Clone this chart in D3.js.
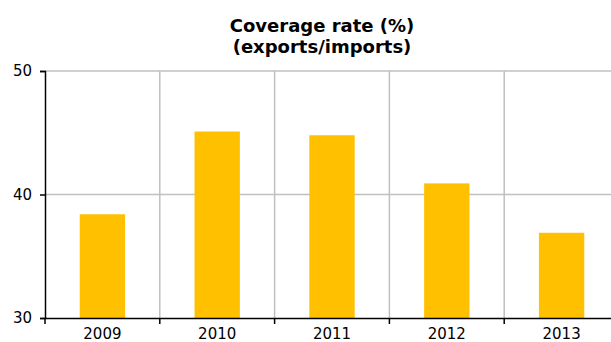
<!DOCTYPE html>
<html lang="en">
<head>
    <meta charset="UTF-8">
    <title>Coverage rate</title>
    <script src="https://cdn.jsdelivr.net/npm/d3@7/dist/d3.min.js"></script>
    <style>
        body { margin: 0; background: #fff; }
        svg { display: block; font-family: "DejaVu Sans", Verdana, sans-serif; }
        .bar { fill: #ffc000; }
        .grid line { stroke: #c0c0c0; stroke-width: 1.5; }
    </style>
</head>
<body>
    <script>
        var years = ["2009", "2010", "2011", "2012", "2013"];
        var coverage = [38.4, 45.1, 44.8, 40.9, 36.9];
        var yTicks = [30, 40, 50];
        var titleLines = ["Coverage rate (%)", "(exports/imports)"];

        var data = years.map((d, i) => ({ year: d, value: coverage[i] }));

        var width = 611, height = 342;
        var margin = { top: 71, right: -8, bottom: 24, left: 45 };

        var svg = d3.select("body").append("svg")
            .attr("width", width)
            .attr("height", height);

        var x = d3.scaleBand()
            .domain(years)
            .range([margin.left, width - margin.right])
            .padding(0);

        var y = d3.scaleLinear()
            .domain([30, 50])
            .range([height - margin.bottom, margin.top]);

        // gridlines
        var grid = svg.append("g").attr("class", "grid");
        grid.selectAll(".h")
            .data(yTicks.slice(1))
            .enter().append("line")
            .attr("x1", margin.left)
            .attr("x2", width)
            .attr("y1", d => y(d))
            .attr("y2", d => y(d));
        grid.selectAll(".v")
            .data(years.slice(1))
            .enter().append("line")
            .attr("x1", d => x(d))
            .attr("x2", d => x(d))
            .attr("y1", y(50))
            .attr("y2", y(30));

        // bars
        var bw = x.bandwidth() * 0.395;
        svg.selectAll(".bar")
            .data(data)
            .enter().append("rect")
            .attr("class", "bar")
            .attr("x", d => x(d.year) + (x.bandwidth() - bw) / 2)
            .attr("y", d => y(d.value))
            .attr("width", bw)
            .attr("height", d => y(30) - y(d.value));

        // y axis
        var yAxis = svg.append("g")
            .attr("transform", "translate(" + margin.left + ",0)")
            .call(d3.axisLeft(y).tickValues(yTicks).tickSize(5).tickPadding(8));
        yAxis.selectAll("path, line").attr("stroke", "#000").attr("stroke-width", 1.5);
        yAxis.selectAll("text").attr("font-size", 15).attr("fill", "#000")
            .attr("font-family", "DejaVu Sans");

        // x axis: labels centered, ticks on category boundaries
        var xAxis = svg.append("g")
            .attr("transform", "translate(0," + y(30) + ")")
            .call(d3.axisBottom(x).tickSize(0).tickPadding(10));
        xAxis.select(".domain").attr("stroke", "#000").attr("stroke-width", 1.5);
        xAxis.selectAll("text").attr("font-size", 15).attr("fill", "#000")
            .attr("font-family", "DejaVu Sans");
        xAxis.selectAll(".bound")
            .data(years)
            .enter().append("line")
            .attr("x1", d => x(d))
            .attr("x2", d => x(d))
            .attr("y1", 0)
            .attr("y2", 6)
            .attr("stroke", "#000")
            .attr("stroke-width", 1.5);

        // title
        svg.append("text")
            .attr("x", 322)
            .attr("y", 32)
            .attr("text-anchor", "middle")
            .attr("font-size", 18)
            .attr("font-weight", "bold")
            .selectAll("tspan")
            .data(titleLines)
            .enter().append("tspan")
            .attr("x", 322)
            .attr("dy", (d, i) => i ? 21 : 0)
            .text(d => d);
    </script>
</body>
</html>
